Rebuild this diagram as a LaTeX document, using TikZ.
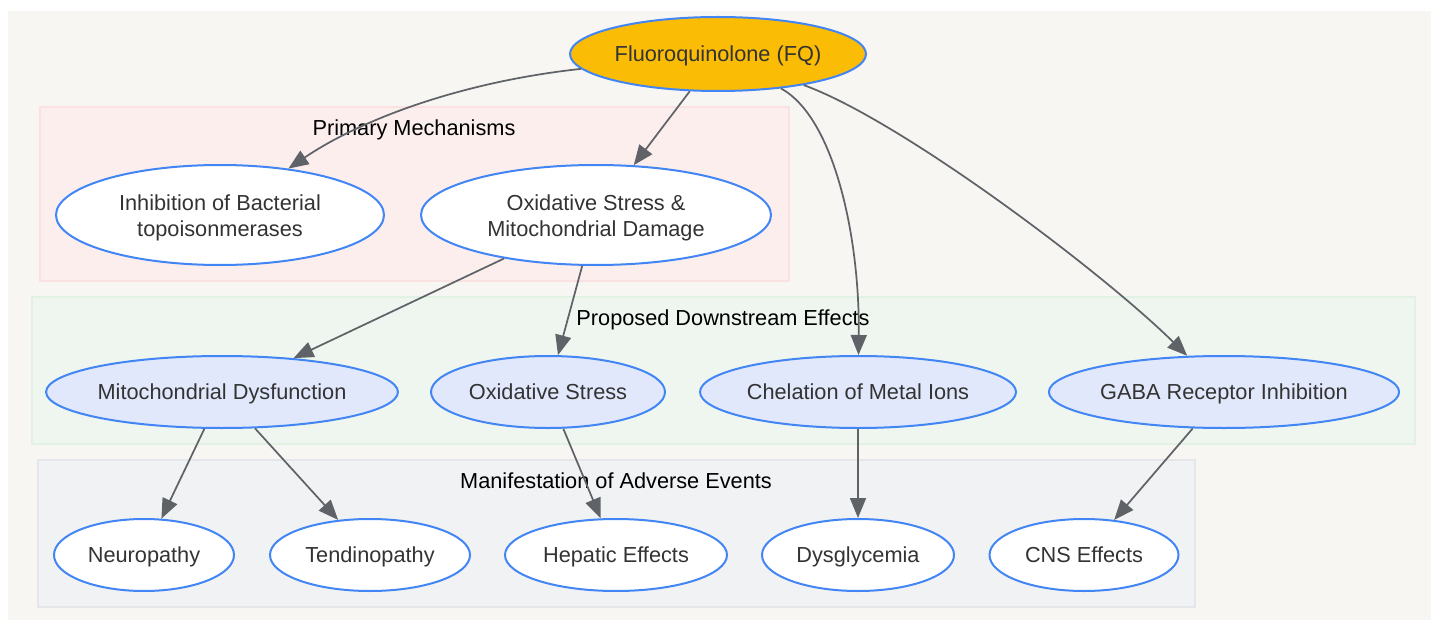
\documentclass[tikz,border=0pt]{standalone}
\usepackage{fontspec}
\setmainfont{Liberation Sans}
\usepackage{color}
\usepackage{tikz}
\usetikzlibrary{shapes.geometric,arrows.meta}

\definecolor{canvas}{HTML}{F7F6F2}
\definecolor{edgegray}{HTML}{5F6368}
\definecolor{nodeblue}{HTML}{4285F4}
\definecolor{fqyellow}{HTML}{FBBC05}
\definecolor{effectfill}{HTML}{E2E8FC}
\definecolor{textgray}{HTML}{333333}
\definecolor{primfill}{HTML}{FDEEEE}
\definecolor{primline}{HTML}{FAE2E2}
\definecolor{downfill}{HTML}{EFF6EF}
\definecolor{downline}{HTML}{E1F1E4}
\definecolor{manifill}{HTML}{F1F2F4}
\definecolor{maniline}{HTML}{E4E6EA}

\tikzset{
    oval/.style={ellipse, draw=nodeblue, line width=1.5pt, inner sep=0pt,
        text=textgray, align=center,
        font=\fontsize{16.3}{19.5}\selectfont},
    oneline/.style={text height=15.2pt, text depth=3.5pt},
    root/.style={oval, oneline, fill=fqyellow, minimum height=55.5pt},
    mech/.style={oval, fill=white, minimum height=75pt,
        text height=35.5pt, text depth=3.5pt},
    effect/.style={oval, oneline, fill=effectfill, minimum height=54pt},
    event/.style={oval, oneline, fill=white, minimum height=54pt},
    cluster/.style={line width=1pt},
    clusterlabel/.style={oneline, text=black, font=\fontsize{16.3}{19.5}\selectfont},
    flow/.style={->, draw=edgegray, line width=1.3pt,
        >={Triangle[length=15pt,width=12pt]}}
}

\begin{document}
\begin{tikzpicture}[x=0.75pt, y=-0.75pt]
    \useasboundingbox (0,0) rectangle (1431,624);
    \fill[canvas] (8,11) rectangle (1431,620);

    \filldraw[cluster, fill=primfill, draw=primline] (40,107) rectangle (789,281);
    \filldraw[cluster, fill=downfill, draw=downline] (32,297) rectangle (1415,444);
    \filldraw[cluster, fill=manifill, draw=maniline] (38,460) rectangle (1195,607);
    \node[clusterlabel] (primlabel) at (414,128) {Primary Mechanisms};
    \node[clusterlabel] (downlabel) at (723,318) {Proposed Downstream Effects};
    \node[clusterlabel] (manilabel) at (616,481) {Manifestation of Adverse Events};

    \node[root, minimum width=222pt] (fq) at (718,54) {Fluoroquinolone (FQ)};

    \node[mech, minimum width=246pt] (topo) at (220,215) {Inhibition of Bacterial\\topoisonmerases};
    \node[mech, minimum width=262.5pt] (oxmito) at (596,215) {Oxidative Stress \&\\Mitochondrial Damage};

    \node[effect, minimum width=261pt] (mitodys) at (222,392) {Mitochondrial Dysfunction};
    \node[effect, minimum width=175.5pt] (oxstress) at (548,392) {Oxidative Stress};
    \node[effect, minimum width=237pt] (chel) at (858,392) {Chelation of Metal Ions};
    \node[effect, minimum width=259.5pt] (gaba) at (1224,392) {GABA Receptor Inhibition};

    \node[event, minimum width=135pt] (neuro) at (144,555) {Neuropathy};
    \node[event, minimum width=150pt] (tendo) at (370,555) {Tendinopathy};
    \node[event, minimum width=166.5pt] (hepa) at (616,555) {Hepatic Effects};
    \node[event, minimum width=144pt] (dysgly) at (858,555) {Dysglycemia};
    \node[event, minimum width=141.75pt] (cns) at (1084,555) {CNS Effects};

    \draw[flow] (fq) .. controls (460,82) and (360,120) .. (topo);
    \draw[flow] (fq) -- (oxmito);
    \draw[flow] (fq) .. controls (835,118) and (860,240) .. (chel);
    \draw[flow] (fq) .. controls (900,120) and (1100,270) .. (gaba);
    \draw[flow] (oxmito) -- (mitodys);
    \draw[flow] (oxmito) -- (oxstress);
    \draw[flow] (mitodys) -- (neuro);
    \draw[flow] (mitodys) -- (tendo);
    \draw[flow] (oxstress) -- (hepa);
    \draw[flow] (chel) -- (dysgly);
    \draw[flow] (gaba) -- (cns);
\end{tikzpicture}
\end{document}
